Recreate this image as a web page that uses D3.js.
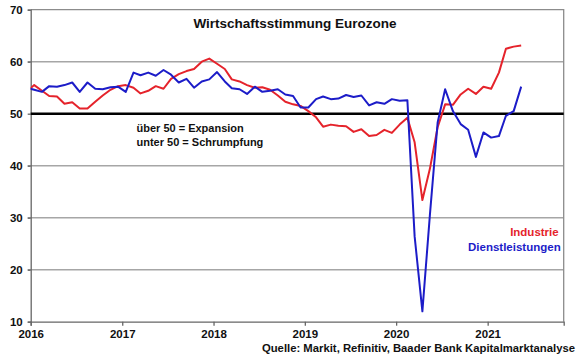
<!DOCTYPE html>
<html>
<head>
<meta charset="utf-8">
<script src="https://cdn.jsdelivr.net/npm/d3@7"></script>
<style>
  html, body { margin: 0; padding: 0; background: #fff; }
  svg { display: block; font-family: "Liberation Sans", Arial, sans-serif; }
</style>
</head>
<body>
<svg id="chart" width="580" height="359"></svg>
<script>
// ---- data (monthly, Dec 2015 .. May 2021; Dec 2015 lies left of the axis and is clipped) ----
const firstMonth = "2015-12";
const industrie = [
  54.2,
  55.5, 54.4, 53.4, 53.3, 51.9, 52.2, 51.0, 51.0, 52.3, 53.5, 54.6, 55.3,
  55.5, 55.0, 53.9, 54.4, 55.3, 54.8, 56.7, 57.6, 58.2, 58.6, 60.0, 60.6,
  59.6, 58.6, 56.6, 56.2, 55.5, 55.0, 55.1, 54.6, 53.5, 52.3, 51.8, 51.5,
  50.5, 49.3, 47.5, 47.9, 47.7, 47.6, 46.5, 47.0, 45.7, 45.9, 46.9, 46.3,
  47.9, 49.2, 44.5, 33.4, 39.4, 47.4, 51.8, 51.7, 53.7, 54.8, 53.8, 55.2,
  54.8, 57.9, 62.5, 62.9, 63.1
];
const dienstleistungen = [
  55.0,
  54.6, 54.2, 55.3, 55.2, 55.5, 56.0, 54.2, 56.0, 54.8, 54.7, 55.1, 55.2,
  54.2, 57.9, 57.4, 57.9, 57.3, 58.4, 57.5, 56.0, 56.7, 55.0, 56.2, 56.6,
  58.0, 56.2, 54.9, 54.7, 53.8, 55.2, 54.2, 54.4, 54.7, 53.7, 53.4, 51.2,
  51.2, 52.8, 53.3, 52.8, 52.9, 53.6, 53.2, 53.5, 51.6, 52.2, 51.9, 52.8,
  52.5, 52.6, 26.4, 12.0, 30.5, 48.3, 54.7, 50.5, 48.0, 46.9, 41.7, 46.4,
  45.4, 45.7, 49.6, 50.5, 55.2
];
const yTicks = [10, 20, 30, 40, 50, 60, 70];
const xTickYears = [2016, 2017, 2018, 2019, 2020, 2021];
const xDomain = ["2016-01-01", "2021-11-01"];
const seriesNames = ["Industrie", "Dienstleistungen"];
const seriesColors = ["#e5232b", "#1c1cc8"];
const titleText = "Wirtschaftsstimmung Eurozone";
const noteLines = ["über 50 = Expansion", "unter 50 = Schrumpfung"];
const sourceText = "Quelle: Markit, Refinitiv, Baader Bank Kapitalmarktanalyse";

// ---- layout ----
const svg = d3.select("#chart");
const L = 30.7, R = 563.7, T = 9.7, B = 321.7;

const parse = d3.utcParse("%Y-%m");
const start = parse(firstMonth);
// plot each month at its 15th day
const dateAt = i => new Date(Date.UTC(start.getUTCFullYear(), start.getUTCMonth() + i, 15));

const x = d3.scaleUtc()
  .domain(xDomain.map(d => new Date(d + "T00:00:00Z")))
  .range([L, R]);
const y = d3.scaleLinear().domain([10, 70]).range([B, T]);

// clip
svg.append("defs").append("clipPath").attr("id", "plotclip")
  .append("rect").attr("x", L).attr("y", T - 2).attr("width", R - L).attr("height", B - T + 4);

// gridlines
svg.append("g").selectAll("line")
  .data(yTicks.filter(v => v !== 10 && v !== 50 && v !== 70))
  .join("line")
  .attr("x1", L - 3).attr("x2", R)
  .attr("y1", d => y(d)).attr("y2", d => y(d))
  .attr("stroke", "#a6a6a6").attr("stroke-width", 1.5);

// plot frame (top + right)
svg.append("path")
  .attr("d", `M${L},${y(70)}H${R}V${B}`)
  .attr("fill", "none").attr("stroke", "#8c8c8c").attr("stroke-width", 1.3);

// y axis
const yAxis = svg.append("g")
  .attr("transform", `translate(${L},0)`)
  .call(d3.axisLeft(y).tickValues(yTicks).tickSize(3).tickPadding(5).tickFormat(d3.format("d")));
yAxis.select(".domain").attr("stroke", "#666").attr("stroke-width", 1.3);
yAxis.selectAll(".tick line").attr("stroke", "#666").attr("stroke-width", 1.3);
yAxis.selectAll("text").attr("font-size", 11.5).attr("font-weight", "bold").attr("fill", "#111")
  .attr("font-family", "Liberation Sans, Arial, sans-serif");

// x axis
const xAxis = svg.append("g")
  .attr("transform", `translate(0,${B})`)
  .call(d3.axisBottom(x)
    .tickValues(xTickYears.map(yr => new Date(Date.UTC(yr, 0, 1))))
    .tickSize(4).tickPadding(4)
    .tickFormat(d3.utcFormat("%Y")));
xAxis.select(".domain").attr("stroke", "#666").attr("stroke-width", 1.3);
xAxis.selectAll(".tick line").attr("stroke", "#666").attr("stroke-width", 1.3);
xAxis.selectAll("text").attr("font-size", 11.5).attr("font-weight", "bold").attr("fill", "#111")
  .attr("font-family", "Liberation Sans, Arial, sans-serif");

// 50 line
svg.append("line")
  .attr("x1", L).attr("x2", R).attr("y1", y(50)).attr("y2", y(50))
  .attr("stroke", "#000").attr("stroke-width", 2.4);

// series
const line = d3.line().x((d, i) => x(dateAt(i))).y(d => y(d));
const gLines = svg.append("g").attr("clip-path", "url(#plotclip)");
[industrie, dienstleistungen].forEach((s, k) => {
  gLines.append("path")
    .datum(s)
    .attr("d", line)
    .attr("fill", "none")
    .attr("stroke", seriesColors[k])
    .attr("stroke-width", 2)
    .attr("stroke-linejoin", "round");
});

// title
svg.append("text")
  .attr("x", 295).attr("y", 23).attr("dy", "0.35em")
  .attr("text-anchor", "middle")
  .attr("font-size", 13.5).attr("font-weight", "bold").attr("fill", "#111")
  .text(titleText);

// note
svg.append("g").selectAll("text").data(noteLines).join("text")
  .attr("x", 136.5).attr("y", (d, i) => 128.5 + i * 13.3).attr("dy", "0.35em")
  .attr("font-size", 11).attr("font-weight", "bold").attr("fill", "#111")
  .text(d => d);

// legend
svg.append("g").selectAll("text").data(seriesNames).join("text")
  .attr("x", (d, i) => i === 0 ? 558.7 : 560.7)
  .attr("y", (d, i) => 231.7 + i * 15).attr("dy", "0.35em")
  .attr("text-anchor", "end")
  .attr("font-size", 11.5).attr("font-weight", "bold")
  .attr("fill", (d, i) => seriesColors[i])
  .text(d => d);

// source
svg.append("text")
  .attr("x", 575).attr("y", 347.7).attr("dy", "0.35em")
  .attr("text-anchor", "end")
  .attr("font-size", 11.3).attr("font-weight", "bold").attr("fill", "#111")
  .text(sourceText);
</script>
</body>
</html>
